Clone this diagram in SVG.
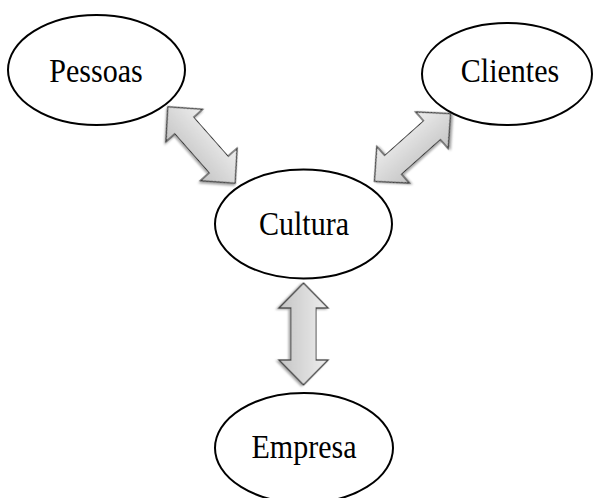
<svg xmlns="http://www.w3.org/2000/svg" width="595" height="498" viewBox="0 0 595 498">
<style>
.node ellipse{fill:#fff;stroke:#000;stroke-width:2}
.node text{font-family:"Liberation Serif","Times New Roman",serif;font-size:33px;fill:#000;text-anchor:middle}
.arr{fill:url(#g);stroke:#3a3a3a;stroke-width:1.2;stroke-linejoin:miter;filter:url(#sh)}
</style>
<defs>
<linearGradient id="g" x1="0" y1="0" x2="0" y2="1">
<stop offset="0" stop-color="#eeeeee"/>
<stop offset="1" stop-color="#c4c4c4"/>
</linearGradient>
<filter id="sh" x="-20%" y="-20%" width="140%" height="140%">
<feGaussianBlur in="SourceAlpha" stdDeviation="1.2"/>
<feOffset dx="1" dy="1.5" result="b"/>
<feComponentTransfer><feFuncA type="linear" slope="0.35"/></feComponentTransfer>
<feMerge><feMergeNode/><feMergeNode in="SourceGraphic"/></feMerge>
</filter>
<polygon id="da" points="-51,0 -26,-24.5 -26,-12.5 26,-12.5 26,-24.5 51,0 26,24.5 26,12.5 -26,12.5 -26,24.5"/>
</defs>
<g id="connectors">
<use href="#da" class="arr" transform="translate(201.5,145) rotate(48.6)"/>
<use href="#da" class="arr" transform="translate(412.5,147.5) rotate(-41.7)"/>
<use href="#da" class="arr" transform="translate(303.5,334) rotate(90)"/>
</g>
<g id="pessoas" class="node"><ellipse cx="96.5" cy="70" rx="88.5" ry="55"/><text transform="matrix(0.91 0 0 1 96 82)">Pessoas</text></g>
<g id="clientes" class="node"><ellipse cx="507" cy="74" rx="85" ry="51"/><text transform="matrix(0.91 0 0 1 510 82)">Clientes</text></g>
<g id="cultura" class="node"><ellipse cx="303.5" cy="224" rx="88.5" ry="54.5"/><text transform="matrix(0.91 0 0 1 304 235)">Cultura</text></g>
<g id="empresa" class="node"><ellipse cx="304" cy="448" rx="89" ry="55"/><text transform="matrix(0.91 0 0 1 304 458)">Empresa</text></g>
</svg>
